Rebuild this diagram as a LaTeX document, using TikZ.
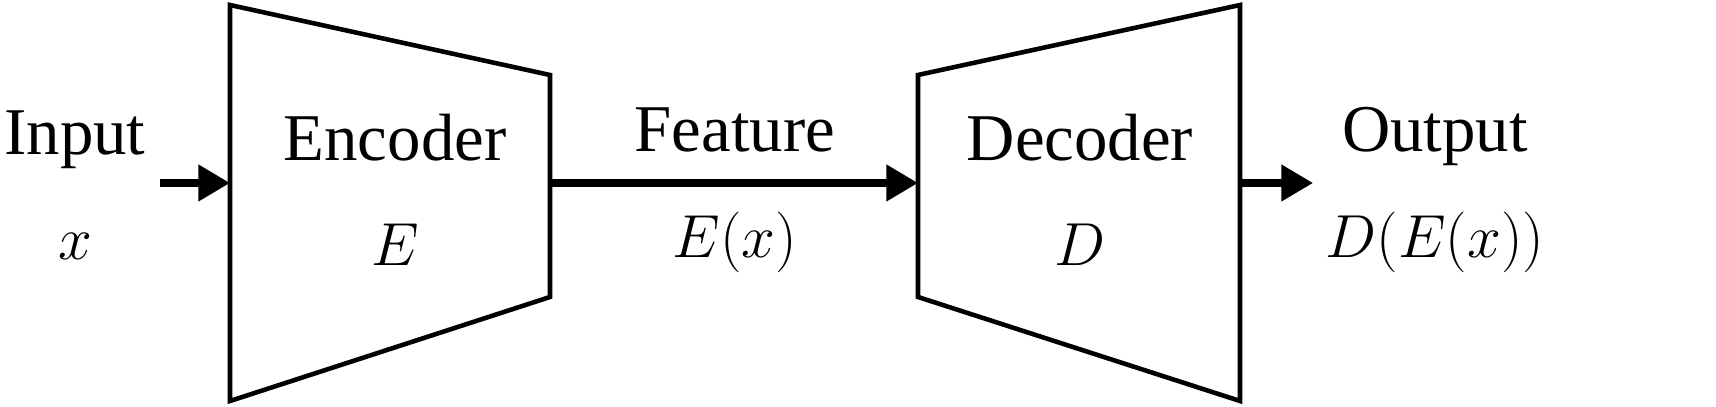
\documentclass[tikz,border=0pt]{standalone}
\usepackage{fontspec}
\setmainfont{Liberation Serif}
\usetikzlibrary{arrows.meta,positioning}
\begin{document}
\begin{tikzpicture}[x=0.01cm,y=-0.01cm]
  \tikzset{label/.style = {align=center,font=\fontsize{19}{26}\selectfont,inner sep=0pt}}
  \tikzset{block/.style = {draw=black,line width=1.3pt,line join=miter}}
  \tikzset{flow/.style = {line width=2pt,-{Triangle[length=9pt,width=10pt]}}}
  \useasboundingbox (0,0) rectangle (1716,407);

  % encoder
  \coordinate (e1) at (230,5);
  \coordinate (e2) at (550,75);
  \coordinate (e3) at (550,297);
  \coordinate (e4) at (230,401);
  \draw[block] (e1) -- (e2) -- (e3) -- (e4) -- cycle;
  % decoder
  \coordinate (d1) at (918,75);
  \coordinate (d2) at (1240,5);
  \coordinate (d3) at (1240,401);
  \coordinate (d4) at (918,297);
  \draw[block] (d1) -- (d2) -- (d3) -- (d4) -- cycle;

  \coordinate (ein) at (230,183);
  \coordinate (eout) at (550,183);
  \coordinate (din) at (918,183);
  \coordinate (dout) at (1240,183);
  \coordinate (in) at (160,183);
  \coordinate (out) at (1313,183);

  \node[label] (input) at (75,185) {Input\\[4pt]$x$};
  \node[label] (enc) at (395,190) {Encoder\\[4pt]$E$};
  \node[label] (feat) at (735,190) {Feature\\[4pt]$E(x)$};
  \node[label] (dec) at (1080,190) {Decoder\\[4pt]$D$};
  \node[label] (output) at (1435,190) {Output\\[4pt]$D(E(x))$};

  \draw[flow] (in) -- (ein);
  \draw[flow] (eout) -- (din);
  \draw[flow] (dout) -- (out);
\end{tikzpicture}
\end{document}
